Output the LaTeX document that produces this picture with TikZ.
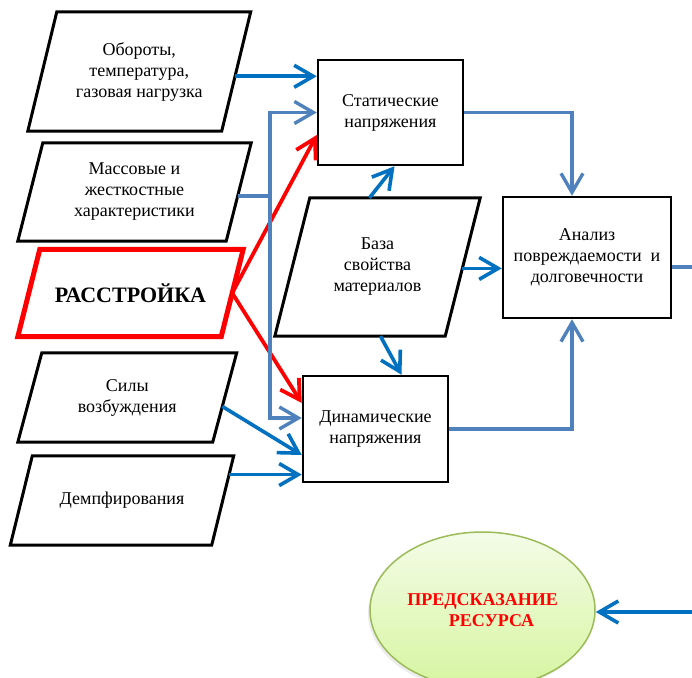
\documentclass[tikz,border=0pt]{standalone}
\usepackage{fontspec}
\setmainfont{Liberation Serif}
\usetikzlibrary{arrows.meta,calc,shapes.geometric,shadows}

\definecolor{dblue}{RGB}{0,112,192}
\definecolor{lblue}{RGB}{79,129,189}
\definecolor{ellline}{RGB}{155,187,89}
\definecolor{elltop}{RGB}{244,252,232}
\definecolor{ellbot}{RGB}{214,245,160}

\tikzset{
  txt/.style={font=\fontsize{18}{21}\selectfont, align=center, inner sep=0pt},
  parabody/.style={txt, rectangle, minimum width=#1},
  boxnode/.style={txt, rectangle, draw=black, line width=2.5pt, fill=white},
  paraline/.style={draw=black, line width=3pt, fill=white},
  redpara/.style={draw=red, line width=5pt, fill=white},
  arr/.style={-{Straight Barb[length=19pt,width=22pt]}},
  dline/.style={draw=dblue, line width=3.6pt},
  lline/.style={draw=lblue, line width=3.4pt},
  rline/.style={draw=red, line width=3.8pt},
}

% outline of a slanted input block around a text node; #2 = half of the slant
\newcommand\paraoutline[3]{%
  \coordinate (#1-nw) at ($(#1.north west)+(#2,0)$);
  \coordinate (#1-ne) at ($(#1.north east)+(#2,0)$);
  \coordinate (#1-se) at ($(#1.south east)-(#2,0)$);
  \coordinate (#1-sw) at ($(#1.south west)-(#2,0)$);
  \path[#3] (#1-nw) -- (#1-ne) -- (#1-se) -- (#1-sw) -- cycle;
  \node[txt] at (#1.center) {\csname ptext#1\endcsname};
}

\begin{document}
\begin{tikzpicture}[x=1pt,y=-1pt]
\useasboundingbox (0,0) rectangle (692,677);
\clip (0,0) rectangle (692,677);

% input blocks (text is set after the outline is filled)
\node[parabody=193.5, minimum height=119] (p1) at (139.25,71.5) {};
\node[parabody=208,   minimum height=98]  (p2) at (134.5,192) {};
\node[parabody=203,   minimum height=87]  (p3) at (130.5,293) {};
\node[parabody=194.5, minimum height=89]  (p4) at (127.25,397.5) {};
\node[parabody=201,   minimum height=89]  (p5) at (122,500.5) {};
\node[parabody=170,   minimum height=138] (p6) at (377.5,267) {};

\expandafter\def\csname ptextp1\endcsname{Обороты,\\температура,\\газовая нагрузка}
\expandafter\def\csname ptextp2\endcsname{Массовые и\\жесткостные\\характеристики}
\expandafter\def\csname ptextp3\endcsname{\fontsize{22}{25}\selectfont\bfseries РАССТРОЙКА}
\expandafter\def\csname ptextp4\endcsname{Силы\\возбуждения}
\expandafter\def\csname ptextp5\endcsname{Демпфирования}
\expandafter\def\csname ptextp6\endcsname{База\\свойства\\материалов}

\paraoutline{p1}{14.5}{paraline}
\paraoutline{p2}{12.5}{paraline}
\paraoutline{p3}{11}{redpara}
\paraoutline{p4}{12}{paraline}
\paraoutline{p5}{11}{paraline}
\paraoutline{p6}{17.5}{paraline}

% processing blocks
\node[boxnode, minimum width=145, minimum height=105] (s) at (390.5,112.5) {Статические\\напряжения};
\node[boxnode, minimum width=145, minimum height=106] (d) at (375.5,429) {Динамические\\напряжения};
\node[boxnode, minimum width=168, minimum height=121] (a) at (587,257.5) {Анализ\\повреждаемости\ \ и\\долговечности};

% result
\node[ellipse, draw=ellline, line width=1.5pt, top color=elltop, bottom color=ellbot,
      minimum width=225, minimum height=156, inner sep=0pt,
      drop shadow={opacity=0.15, shadow xshift=-2pt, shadow yshift=-3pt},
      txt, text=red, font=\fontsize{18}{21}\selectfont\bfseries] (e) at (482.5,610)
      {ПРЕДСКАЗАНИЕ\\\hspace*{18pt}РЕСУРСА};

% connection points on the slanted edges
\coordinate (p1o) at ($(p1-ne)!0.54!(p1-se)$);
\coordinate (p2o) at ($(p2-ne)!0.54!(p2-se)$);
\coordinate (p4o) at ($(p4-ne)!0.6!(p4-se)$);
\coordinate (p5o) at ($(p5-ne)!0.21!(p5-se)$);
\coordinate (p6o) at ($(p6-ne)!0.51!(p6-se)$);
\coordinate (p6t) at ($(p6-nw)!0.35!(p6-ne)$);
\coordinate (p6b) at ($(p6-sw)!0.62!(p6-se)$);
\coordinate (bus) at (270,0);
\coordinate (outR) at (692,267);
\coordinate (inR) at (692,612);

% red influence lines
\draw[rline,arr] (p3.east) -- ([yshift=-22.5pt]s.west);
\draw[rline,arr] (p3.east) -- ([yshift=26pt]d.west);

% mass and stiffness feed both stress blocks
\draw[lline] (p2o) -- (p2o -| bus);
\draw[lline,arr] (p2o -| bus) |- (s.west);
\draw[lline,arr] (p2o -| bus) |- ([yshift=11pt]d.west);

% loads
\draw[dline,arr] (p1o) -- (p1o -| s.west);
\draw[dline,arr] (p4o) -- ([yshift=-26pt]d.west);
\draw[dline,arr] (p5o) -- (p5o -| d.west);

% material properties
\draw[dline,arr] (p6t) -- ([xshift=4pt]s.south);
\draw[dline,arr] (p6b) -- ([xshift=26pt]d.north);
\draw[dline,arr] (p6o) -- (p6o -| a.west);

% stresses to the damage analysis
\draw[lline,arr] (s.east) -| ([xshift=-15pt]a.north);
\draw[lline,arr] (d.east) -| ([xshift=-15pt]a.south);

% analysis output and its return to the prediction
\draw[lline] (a.east |- outR) -- (outR);
\draw[dline,arr] (inR) -- (inR -| e.east);
\end{tikzpicture}
\end{document}
